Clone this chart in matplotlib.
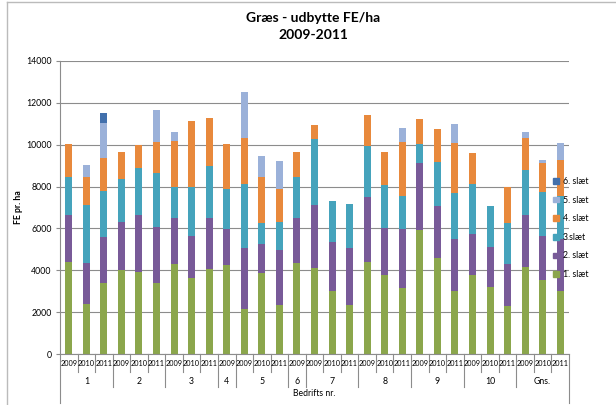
import matplotlib.pyplot as plt
from matplotlib.lines import Line2D
from matplotlib.patches import Patch
import matplotlib.transforms as mtransforms

GROUPS = ["1", "2", "3", "4", "5", "6", "7", "8", "9", "10", "Gns."]
GROUP_YEARS = [
    ["2009", "2010", "2011"],
    ["2009", "2010", "2011"],
    ["2009", "2010", "2011"],
    ["2009"],
    ["2009", "2010", "2011"],
    ["2009"],
    ["2009", "2010", "2011"],
    ["2009", "2010", "2011"],
    ["2009", "2010", "2011"],
    ["2009", "2010", "2011"],
    ["2009", "2010", "2011"],
]

# one value per bar, left to right
slaet1 = [4380, 2400, 3400, 3990, 3930, 3370, 4310, 3610, 4060, 4230, 2150, 3850, 2340, 4330,
          4090, 3020, 2340, 4380, 3790, 3170, 5920, 4570, 3010, 3770, 3180, 2280, 4170, 3530, 3010]
slaet2 = [2270, 1970, 2200, 2320, 2700, 2710, 2200, 2050, 2420, 1730, 2900, 1400, 2620, 2150,
          3040, 2320, 2720, 3120, 2210, 2800, 3210, 2500, 2480, 1970, 1940, 2020, 2470, 2120, 2480]
slaet3 = [1800, 2750, 2200, 2040, 2240, 2560, 1450, 2340, 2500, 1940, 3070, 990, 1340, 2000,
          3140, 1970, 2100, 2450, 2070, 1560, 920, 2100, 2210, 2400, 1940, 1940, 2150, 2080, 2070]
slaet4 = [1590, 1320, 1560, 1290, 1100, 1480, 2220, 3140, 2280, 2130, 2180, 2200, 1590, 1170,
          670, 0, 0, 1450, 1590, 2610, 1180, 1570, 2360, 1480, 0, 1750, 1530, 1380, 1700]
slaet5 = [0, 570, 1690, 0, 0, 1530, 450, 0, 0, 0, 2200, 1030, 1340, 0,
          0, 0, 0, 0, 0, 680, 0, 0, 950, 0, 0, 0, 270, 180, 800]
slaet6 = [0, 0, 450, 0, 0, 0, 0, 0, 0, 0, 0, 0, 0, 0,
          0, 0, 0, 0, 0, 0, 0, 0, 0, 0, 0, 0, 0, 0, 0]

SERIES = [
    ("1. slæt", slaet1, "#8BA64C"),
    ("2. slæt", slaet2, "#785A98"),
    ("3.slæt", slaet3, "#45A3BC"),
    ("4. slæt", slaet4, "#E8893C"),
    ("5. slæt", slaet5, "#9BB1D9"),
    ("6. slæt", slaet6, "#4270AC"),
]

plt.rcParams.update({"font.family": ["Lato", "DejaVu Sans"], "font.size": 6.5})

W, H = 616, 405
fig = plt.figure(figsize=(W / 100, H / 100), dpi=100)
x0, x1, y_top, y_bot = 60, 569, 61, 354
ax = fig.add_axes([x0 / W, (H - y_bot) / H, (x1 - x0) / W, (y_bot - y_top) / H])

n = sum(len(y) for y in GROUP_YEARS)
xs = list(range(n))
bottom = [0] * n
for label, vals, color in SERIES:
    ax.bar(xs, vals, bottom=bottom, width=0.4, color=color, linewidth=0, zorder=3)
    bottom = [b + v for b, v in zip(bottom, vals)]

ax.set_xlim(-0.5, n - 0.5)
ax.set_ylim(0, 14000)
ax.set_yticks(range(0, 14001, 2000))
ax.set_xticks([])
ax.grid(True, axis="y", color="#8C8C8C", linewidth=0.8, zorder=0)
for s in ["top", "right", "bottom"]:
    ax.spines[s].set_visible(False)
ax.spines["left"].set_color("#8C8C8C")
ax.tick_params(axis="y", length=3, color="#8C8C8C", labelsize=6.3, pad=3)
ax.set_ylabel("FE pr. ha", fontsize=6.3, fontweight="bold", labelpad=2)

# two-level category axis
def ay(px):
    return -(px - y_bot) / (y_bot - y_top)

trans = mtransforms.blended_transform_factory(ax.transData, ax.transAxes)
lc = "#8C8C8C"
ax.plot([-0.5, n - 0.5], [0, 0], transform=trans, color=lc, lw=0.8, clip_on=False, zorder=4)
pos = 0
for gi, (g, years) in enumerate(zip(GROUPS, GROUP_YEARS)):
    for j, yr in enumerate(years):
        ax.text(pos + j, ay(364), yr, transform=trans, ha="center", va="center", fontsize=5.3)
        if j > 0:
            ax.add_line(Line2D([pos + j - 0.5] * 2, [0, ay(372)], transform=trans, color=lc, lw=0.8, clip_on=False))
    ax.text(pos + (len(years) - 1) / 2, ay(382), g, transform=trans, ha="center", va="center", fontsize=6.3)
    end = ay(403) if gi == 0 else ay(387)
    ax.add_line(Line2D([pos - 0.5] * 2, [0, end], transform=trans, color=lc, lw=0.8, clip_on=False))
    pos += len(years)
ax.add_line(Line2D([pos - 0.5] * 2, [0, ay(403)], transform=trans, color=lc, lw=0.8, clip_on=False))
ax.text(0.5, ay(394), "Bedrifts nr.", transform=ax.transAxes, ha="center", va="center", fontsize=6.2)

fig.text(313 / W, 1 - 18 / H, "Græs - udbytte FE/ha", ha="center", va="center", fontsize=10, fontweight="bold")
fig.text(313 / W, 1 - 35 / H, "2009-2011", ha="center", va="center", fontsize=10, fontweight="bold")

handles = [Patch(color=c, label=l) for l, _, c in reversed(SERIES)]
fig.legend(handles=handles, loc="center left", bbox_to_anchor=(549 / W, 1 - 228 / H), frameon=False,
           fontsize=6.3, handlelength=0.6, handleheight=0.6, handletextpad=0.5, labelspacing=1.1,
           borderpad=0)

# chart frame
fig.add_artist(Line2D([7 / W, 1], [1 - 2 / H] * 2, color="#BBBBBB", lw=1.0))
fig.add_artist(Line2D([7 / W] * 2, [0, 1 - 2 / H], color="#BBBBBB", lw=1.0))

fig.savefig("out.png", dpi=100)
